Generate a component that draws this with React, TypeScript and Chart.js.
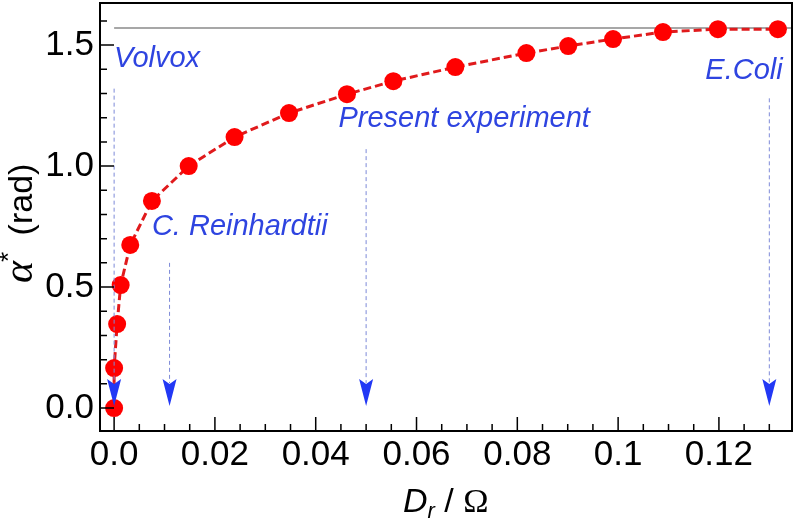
import React, { useEffect, useRef } from "react";
import { Chart, registerables } from "chart.js";
Chart.register(...registerables);

// ---- data ----
const drOmega = [0, 0, 0.0006, 0.0013, 0.0032, 0.0075, 0.0148, 0.0239, 0.0347, 0.0462, 0.0554, 0.0677, 0.0818, 0.0901, 0.099, 0.1089, 0.1198, 0.1317];
const alphaStar = [0, 0.165, 0.347, 0.508, 0.674, 0.856, 1.0, 1.12, 1.219, 1.297, 1.351, 1.409, 1.467, 1.496, 1.525, 1.554, 1.566, 1.566];
const xTickValues = [0, 0.02, 0.04, 0.06, 0.08, 0.1, 0.12];
const xTickLabels = ["0.0", "0.02", "0.04", "0.06", "0.08", "0.1", "0.12"];
const yTickValues = [0, 0.5, 1.0, 1.5];
const yTickLabels = ["0.0", "0.5", "1.0", "1.5"];
const xMinorStep = 0.005;
const yMinorStep = 0.1;
const organisms = ["Volvox", "C. Reinhardtii", "Present experiment", "E.Coli"];
const organismDr = [0, 0.011, 0.05, 0.13];
const arrowStartY = [1.32, 0.6, 1.07, 1.28];
const arrowEndY = [0.008, 0.008, 0.008, 0.008];
const labelX = [0, 0.0075, 0.0445, 0.1173];
const labelY = [1.41, 0.715, 1.161, 1.36];
const asymptote = Math.PI / 2;

const SANS = "'Liberation Sans', Arial, sans-serif";
const SERIF = "'Liberation Serif', 'Times New Roman', serif";
const BLUE_TEXT = "#2e44e0";
const BLUE_HEAD = "#2238f5";
const BLUE_LINE = "#7d8ad8";

const decor = {
  id: "decor",
  afterDatasetsDraw(chart: any) {
    const ctx = chart.ctx;
    const xs = chart.scales.x;
    const ys = chart.scales.y;
    organismDr.forEach((v, i) => {
      const px = xs.getPixelForValue(v);
      const top = ys.getPixelForValue(arrowStartY[i]);
      const tip = ys.getPixelForValue(arrowEndY[i]);
      const headLen = 27;
      const headW = 7;
      ctx.save();
      ctx.strokeStyle = BLUE_LINE;
      ctx.lineWidth = 1;
      ctx.setLineDash([4, 3]);
      ctx.beginPath();
      ctx.moveTo(px, top);
      ctx.lineTo(px, tip - headLen + 4);
      ctx.stroke();
      ctx.setLineDash([]);
      ctx.fillStyle = BLUE_HEAD;
      ctx.beginPath();
      ctx.moveTo(px, tip);
      ctx.lineTo(px - headW, tip - headLen);
      ctx.lineTo(px, tip - headLen + 5);
      ctx.lineTo(px + headW, tip - headLen);
      ctx.closePath();
      ctx.fill();
      ctx.restore();
    });
    ctx.save();
    ctx.fillStyle = BLUE_TEXT;
    ctx.font = `italic 29px ${SANS}`;
    ctx.textAlign = "left";
    ctx.textBaseline = "alphabetic";
    organisms.forEach((t, i) => {
      ctx.fillText(t, xs.getPixelForValue(labelX[i]), ys.getPixelForValue(labelY[i]));
    });
    ctx.restore();
  },
  afterDraw(chart: any) {
    const ctx = chart.ctx;
    const a = chart.chartArea;
    const xs = chart.scales.x;
    const ys = chart.scales.y;
    ctx.save();
    ctx.strokeStyle = "#000";
    ctx.lineWidth = 2;
    ctx.strokeRect(a.left, a.top, a.right - a.left, a.bottom - a.top);
    ctx.lineWidth = 1.5;
    ctx.beginPath();
    for (let k = 0; k * xMinorStep <= xs.max + 1e-9; k++) {
      const v = k * xMinorStep;
      const major = xTickValues.some((t) => Math.abs(t - v) < 1e-9);
      const px = xs.getPixelForValue(v);
      ctx.moveTo(px, a.bottom);
      ctx.lineTo(px, a.bottom - (major ? 14 : 7));
    }
    for (let k = 0; k * yMinorStep <= ys.max + 1e-9; k++) {
      const v = k * yMinorStep;
      const major = yTickValues.some((t) => Math.abs(t - v) < 1e-9);
      const py = ys.getPixelForValue(v);
      ctx.moveTo(a.left, py);
      ctx.lineTo(a.left + (major ? 14 : 7), py);
    }
    ctx.stroke();

    // x title: D_r / Ω
    ctx.fillStyle = "#000";
    ctx.textBaseline = "alphabetic";
    ctx.textAlign = "left";
    let x = 403;
    const base = 512;
    ctx.font = `italic 34px ${SANS}`;
    ctx.fillText("D", x, base);
    x += ctx.measureText("D").width;
    ctx.font = `italic 22px ${SANS}`;
    ctx.fillText("r", x, base + 6);
    x += ctx.measureText("r").width;
    ctx.font = `34px ${SANS}`;
    ctx.fillText(" / ", x, base);
    x += ctx.measureText(" / ").width;
    ctx.font = `34px ${SERIF}`;
    ctx.fillText("Ω", x, base);

    // y title: α* (rad)
    ctx.translate(32, 283);
    ctx.rotate(-Math.PI / 2);
    let y = 0;
    ctx.font = `italic 42px ${SERIF}`;
    ctx.fillText("α", y, 0);
    y += ctx.measureText("α").width;
    ctx.font = `26px ${SANS}`;
    ctx.fillText("*", y - 1, -15);
    y += ctx.measureText("*").width + 6;
    ctx.font = `34px ${SANS}`;
    ctx.fillText(" (rad)", y, 0);
    ctx.restore();
  },
};

export default function App() {
  const ref = useRef<HTMLCanvasElement>(null);
  useEffect(() => {
    if (!ref.current) return;
    const chart = new Chart(ref.current, {
      type: "line",
      data: {
        datasets: [
          {
            data: drOmega.map((x, i) => ({ x, y: alphaStar[i] })),
            borderColor: "#e01a1c",
            borderWidth: 3,
            borderDash: [8, 4],
            pointRadius: 9,
            pointBackgroundColor: "#ff0000",
            pointBorderWidth: 0,
            tension: 0,
            order: 1,
          },
          {
            data: [
              { x: 0, y: asymptote },
              { x: 0.1345, y: asymptote },
            ],
            borderColor: "#8a8a8a",
            borderWidth: 1.5,
            pointRadius: 0,
            order: 2,
          },
        ],
      },
      options: {
        responsive: false,
        animation: false,
        layout: { autoPadding: false, padding: { top: 3, right: 1, left: 0, bottom: 0 } },
        plugins: { legend: { display: false }, tooltip: { enabled: false } },
        scales: {
          x: {
            type: "linear",
            min: -0.0028,
            max: 0.1345,
            grid: { display: false, drawTicks: false },
            border: { display: false },
            afterBuildTicks: (s: any) => {
              s.ticks = xTickValues.map((v) => ({ value: v }));
            },
            afterFit: (s: any) => {
              s.height = 89;
              s.paddingLeft = 0;
              s.paddingRight = 0;
            },
            ticks: {
              autoSkip: false,
              maxRotation: 0,
              padding: 3,
              color: "#000",
              font: { family: SANS, size: 35 },
              callback: (_v: any, i: number) => xTickLabels[i],
            },
          },
          y: {
            type: "linear",
            min: -0.095,
            max: 1.674,
            grid: { display: false, drawTicks: false },
            border: { display: false },
            afterBuildTicks: (s: any) => {
              s.ticks = yTickValues.map((v) => ({ value: v }));
            },
            afterFit: (s: any) => {
              s.width = 100;
              s.paddingTop = 0;
              s.paddingBottom = 0;
            },
            ticks: {
              autoSkip: false,
              padding: 6,
              color: "#000",
              font: { family: SANS, size: 35 },
              callback: (_v: any, i: number) => yTickLabels[i],
            },
          },
        },
      },
      plugins: [decor],
    });
    return () => chart.destroy();
  }, []);
  return (
    <div style={{ position: "fixed", left: 0, top: 0, width: 793, height: 520, background: "#fff" }}>
      <canvas ref={ref} width={793} height={520} style={{ display: "block" }} />
    </div>
  );
}
